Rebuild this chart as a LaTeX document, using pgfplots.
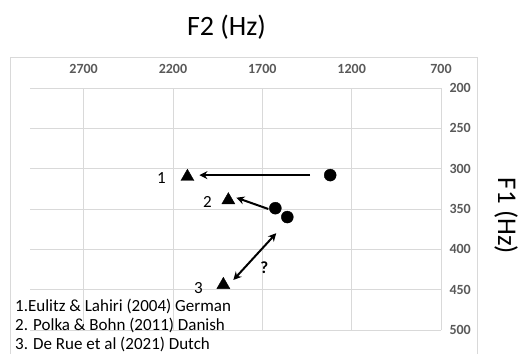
\documentclass[border=0pt]{standalone}
\usepackage{pgfplots}
\pgfplotsset{compat=1.18}
\usepackage{fontspec}
\setmainfont{Carlito}
\usetikzlibrary{arrows.meta}
\definecolor{gridc}{HTML}{D9D9D9}
\definecolor{tickc}{HTML}{595959}
\begin{document}
\begin{tikzpicture}[x=1pt,y=1pt]
\path[use as bounding box] (0,0) rectangle (521,353);
\draw[gridc, line width=0.8pt] (10,-5) rectangle (477,296);
\node[font=\fontsize{28}{32}\selectfont] at (226.5,326) {F2 (Hz)};
\node[rotate=-90, font=\fontsize{27}{30}\selectfont] at (506,137) {F1 (Hz)};
\begin{axis}[at={(30pt,23pt)}, anchor=south west, scale only axis,
  width=411pt, height=242pt,
  xmin=700, xmax=3000, ymin=200, ymax=500,
  x dir=reverse, y dir=reverse,
  xtick={700,1200,1700,2200,2700}, ytick={200,250,300,350,400,450,500},
  xticklabel pos=upper, yticklabel pos=upper,
  axis line style={draw=none},
  major tick length=0pt,
  grid=major, major grid style={gridc, line width=0.8pt},
  /pgf/number format/.cd, 1000 sep={}, assume math mode=true, /pgfplots/.cd,
  ticklabel style={font=\fontsize{14}{16}\selectfont\bfseries, text=tickc},
  xticklabel style={yshift=11pt},
  yticklabel style={xshift=5pt},
  clip=false,
]
\addplot[only marks, mark=*, mark size=6pt, black] coordinates {(1320,308) (1627,349) (1560,360)};
\addplot[only marks, mark=triangle*, mark size=7.5pt, black] coordinates {(2119,310) (1890,339) (1918,444)};
\addplot[-{Stealth[length=8pt,width=8pt]}, line width=2pt, black] coordinates {(1432,308) (2052,308)};
\addplot[-{Stealth[length=8pt,width=8pt]}, line width=2pt, black] coordinates {(1666,350) (1845,336)};
\addplot[{Stealth[length=8pt,width=8pt]}-{Stealth[length=8pt,width=8pt]}, line width=2pt, black] coordinates {(1622,380) (1862,438)};
\node[font=\fontsize{17}{19}\selectfont] at (axis cs:2264,311) {1};
\node[font=\fontsize{17}{19}\selectfont] at (axis cs:2007,341) {2};
\node[font=\fontsize{17}{19}\selectfont] at (axis cs:2057,448) {3};
\node[font=\fontsize{17}{19}\selectfont\bfseries] at (axis cs:1689,423) {?};
\end{axis}
\node[anchor=north west, align=left, inner sep=0pt, font=\fontsize{17}{18.7}\selectfont] at (15,54) {1.Eulitz \& Lahiri (2004) German\\2. Polka \& Bohn (2011) Danish\\3. De Rue et al (2021) Dutch};
\end{tikzpicture}
\end{document}
